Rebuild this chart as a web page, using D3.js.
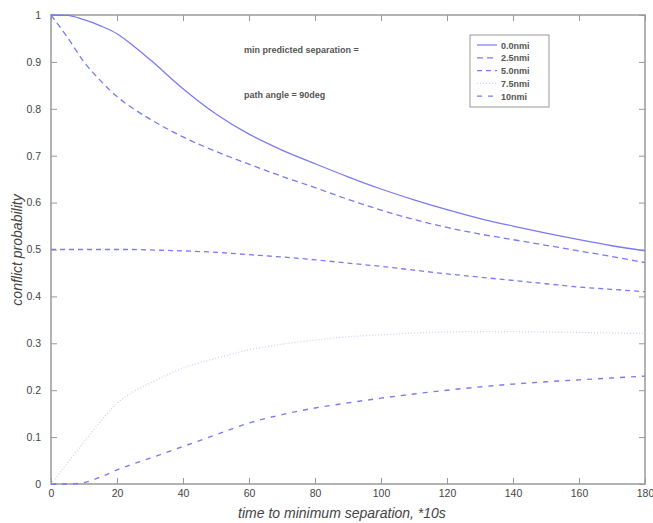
<!DOCTYPE html>
<html><head><meta charset="utf-8">
<script src="https://cdn.jsdelivr.net/npm/d3@7"></script>
<style>body{margin:0;background:#fff;} svg{display:block;}</style>
</head><body>
<script>
const tValues = [0,5,10,15,20,25,30,40,50,60,70,80,90,100,110,120,130,140,150,160,170,180];
const sep00 = [1.0,0.999,0.99,0.977,0.96,0.934,0.905,0.843,0.789,0.746,0.712,0.683,0.655,0.629,0.606,0.585,0.566,0.55,0.535,0.521,0.508,0.497];
const sep25 = [1.0,0.952,0.9,0.86,0.826,0.8,0.778,0.74,0.709,0.682,0.656,0.632,0.607,0.584,0.564,0.547,0.533,0.521,0.509,0.497,0.485,0.472];
const sep50 = [0.5,0.5,0.5,0.5,0.5,0.5,0.499,0.497,0.494,0.489,0.484,0.478,0.471,0.464,0.456,0.448,0.441,0.434,0.427,0.42,0.415,0.41];
const sep75 = [0,0.045,0.09,0.133,0.172,0.197,0.215,0.247,0.268,0.286,0.298,0.307,0.314,0.318,0.322,0.324,0.325,0.325,0.324,0.323,0.322,0.321];
const sep10 = [0,0,0.003,0.015,0.03,0.043,0.055,0.08,0.105,0.13,0.148,0.162,0.173,0.183,0.192,0.2,0.207,0.213,0.218,0.222,0.226,0.23];
const seriesNames = ["0.0nmi","2.5nmi","5.0nmi","7.5nmi","10nmi"];
const xTicks = [0,20,40,60,80,100,120,140,160,180];
const yTicks = [0,0.1,0.2,0.3,0.4,0.5,0.6,0.7,0.8,0.9,1];
const yTickLabels = ["0","0.1","0.2","0.3","0.4","0.5","0.6","0.7","0.8","0.9","1"];
const annotation = ["min predicted separation =","path angle = 90deg"];

const W=653,H=523;
const L=51,R=645,T=15,B=484;
const svg=d3.select("body").append("svg").attr("width",W).attr("height",H);
const x=d3.scaleLinear().domain([0,180]).range([L,R]);
const y=d3.scaleLinear().domain([0,1]).range([B,T]);
const axisCol="#999", txtCol="#444";
const font="Liberation Sans, Arial, sans-serif";

svg.append("rect").attr("x",L).attr("y",T).attr("width",R-L).attr("height",B-T)
  .attr("fill","none").attr("stroke",axisCol).attr("stroke-width",1.5);

function styleAxis(g){
  g.select(".domain").remove();
  g.selectAll("line").attr("stroke",axisCol).attr("stroke-width",1);
  g.selectAll("text").attr("fill",txtCol).attr("font-family",font).attr("font-size",10.5);
}
svg.append("g").attr("transform",`translate(0,${B})`)
  .call(d3.axisBottom(x).tickValues(xTicks).tickSizeInner(-6).tickSizeOuter(0).tickPadding(6).tickFormat(d3.format("d")))
  .call(styleAxis);
svg.append("g").attr("transform",`translate(0,${T})`)
  .call(d3.axisTop(x).tickValues(xTicks).tickSizeInner(-6).tickSizeOuter(0).tickFormat(""))
  .call(styleAxis);
svg.append("g").attr("transform",`translate(${L},0)`)
  .call(d3.axisLeft(y).tickValues(yTicks).tickSizeInner(-6).tickSizeOuter(0).tickPadding(10).tickFormat((d,i)=>yTickLabels[i]))
  .call(styleAxis);
svg.append("g").attr("transform",`translate(${R},0)`)
  .call(d3.axisRight(y).tickValues(yTicks).tickSizeInner(-6).tickSizeOuter(0).tickFormat(""))
  .call(styleAxis);

const styles=[
  {data:sep00,color:"#7a7af5",dash:null,w:1.3},
  {data:sep25,color:"#7a7af5",dash:"6,4",w:1.3},
  {data:sep50,color:"#7a7af5",dash:"5,4",w:1.3},
  {data:sep75,color:"#cfcfff",dash:"1,2",w:1.3},
  {data:sep10,color:"#7a7af5",dash:"5,6",w:1.4}
];
const line=d3.line().x((d,i)=>x(tValues[i])).y(d=>y(d)).curve(d3.curveMonotoneX);
styles.forEach(s=>{
  svg.append("path").attr("d",line(s.data)).attr("fill","none").attr("stroke",s.color)
    .attr("stroke-width",s.w).attr("stroke-dasharray",s.dash);
});

annotation.forEach((t,i)=>{
  svg.append("text").attr("x",244).attr("y",[53,98][i]).text(t)
    .attr("font-family",font).attr("font-size",9).attr("font-weight","bold").attr("fill","#555");
});

const lg=svg.append("g");
lg.append("rect").attr("x",470).attr("y",35).attr("width",79).attr("height",72)
  .attr("fill","#fff").attr("stroke",axisCol).attr("stroke-width",1);
seriesNames.forEach((n,i)=>{
  const yy=45+i*12.8;
  lg.append("line").attr("x1",477).attr("x2",497).attr("y1",yy).attr("y2",yy)
    .attr("stroke",styles[i].color).attr("stroke-width",1.2).attr("stroke-dasharray",styles[i].dash);
  lg.append("text").attr("x",501).attr("y",yy+3.5).text(n)
    .attr("font-family",font).attr("font-size",9).attr("font-weight","bold").attr("fill","#555");
});

svg.append("text").attr("x",342).attr("y",518).attr("text-anchor","middle")
  .text("time to minimum separation, *10s")
  .attr("font-family",font).attr("font-size",14).attr("font-style","italic").attr("fill",txtCol);
svg.append("text").attr("transform",`translate(22,${250}) rotate(-90)`).attr("text-anchor","middle")
  .text("conflict probability")
  .attr("font-family",font).attr("font-size",14).attr("font-style","italic").attr("fill",txtCol);
</script>
</body></html>
